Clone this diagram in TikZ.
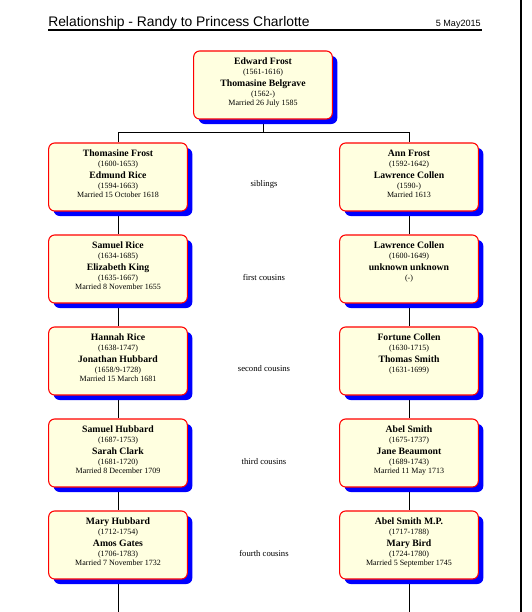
\documentclass[tikz,border=0pt]{standalone}
\usepackage{fontspec}
\setmainfont{Liberation Serif}
\newfontfamily\headfont{Liberation Sans}
\usetikzlibrary{shadows,backgrounds}

\definecolor{boxfill}{RGB}{255,255,224}

% two people of one generation, with dates and the marriage
\newcommand{\couple}[5]{%
  \parbox[t][51pt][t]{104pt}{\centering\lineskiplimit=-20pt
    \fontsize{7.3}{8}\selectfont\bfseries\rule{0pt}{9.75pt}#1\par
    \fontsize{6}{7.6}\selectfont\mdseries #2\par
    \fontsize{7.3}{9}\selectfont\bfseries #3\par
    \fontsize{6}{7.6}\selectfont\mdseries #4\par
    \fontsize{6}{7}\selectfont #5\par}}

\begin{document}
\begin{tikzpicture}[x=0.75pt,y=-0.75pt,
    person/.style={draw=red,fill=boxfill,line width=0.8pt,rounded corners=4.5pt,inner sep=0pt,
      drop shadow={shadow xshift=3.75pt,shadow yshift=-3.75pt,fill=blue,opacity=1}},
    kin/.style={font=\fontsize{6.5}{8}\selectfont},
    link/.style={line width=0.75pt}]
  \useasboundingbox (0,0) rectangle (532,612);

  % heading
  \node[anchor=base west,inner sep=0pt,font=\headfont\fontsize{10.4}{12}\selectfont] (title) at (48,26) {Relationship - Randy to Princess Charlotte};
  \node[anchor=base east,inner sep=0pt,font=\headfont\fontsize{6.8}{8}\selectfont] (date) at (481,26) {5 May2015};
  \draw[line width=0.9pt] (48,30) -- (482,30);
  \draw[line width=1.5pt] (521,0) -- (521,612);

  \node[person] (root) at (263,85) {\couple{Edward Frost}{(1561-1616)}{Thomasine Belgrave}{(1562-)}{Married 26 July 1585}};

  \node[person] (l1) at (118,177) {\couple{Thomasine Frost}{(1600-1653)}{Edmund Rice}{(1594-1663)}{Married 15 October 1618}};
  \node[person] (r1) at (409,177) {\couple{Ann Frost}{(1592-1642)}{Lawrence Collen}{(1590-)}{Married 1613}};
  \node[kin] (k1) at (264,184) {siblings};

  \node[person] (l2) at (118,269) {\couple{Samuel Rice}{(1634-1685)}{Elizabeth King}{(1635-1667)}{Married 8 November 1655}};
  \node[person] (r2) at (409,269) {\couple{Lawrence Collen}{(1600-1649)}{unknown unknown}{(-)}{}};
  \node[kin] (k2) at (264,277) {first cousins};

  \node[person] (l3) at (118,361) {\couple{Hannah Rice}{(1638-1747)}{Jonathan Hubbard}{(1658/9-1728)}{Married 15 March 1681}};
  \node[person] (r3) at (409,361) {\couple{Fortune Collen}{(1630-1715)}{Thomas Smith}{(1631-1699)}{}};
  \node[kin] (k3) at (264,369) {second cousins};

  \node[person] (l4) at (118,453) {\couple{Samuel Hubbard}{(1687-1753)}{Sarah Clark}{(1681-1720)}{Married 8 December 1709}};
  \node[person] (r4) at (409,453) {\couple{Abel Smith}{(1675-1737)}{Jane Beaumont}{(1689-1743)}{Married 11 May 1713}};
  \node[kin] (k4) at (264,462) {third cousins};

  \node[person] (l5) at (118,545) {\couple{Mary Hubbard}{(1712-1754)}{Amos Gates}{(1706-1783)}{Married 7 November 1732}};
  \node[person] (r5) at (409,545) {\couple{Abel Smith M.P.}{(1717-1788)}{Mary Bird}{(1724-1780)}{Married 5 September 1745}};
  \node[kin] (k5) at (264,553) {fourth cousins};

  \coordinate (bar) at (263,132);
  \coordinate (foot) at (0,612);
  \begin{scope}[on background layer]
    \draw[link] (root.south) -- (root.south|-bar);
    \draw[link] (l1.north) -- (l1.north|-bar) -- (r1.north|-bar) -- (r1.north);
    \draw[link] (l1.south) -- (l2.north);
    \draw[link] (l2.south) -- (l3.north);
    \draw[link] (l3.south) -- (l4.north);
    \draw[link] (l4.south) -- (l5.north);
    \draw[link] (l5.south) -- (l5.south|-foot);
    \draw[link] (r1.south) -- (r2.north);
    \draw[link] (r2.south) -- (r3.north);
    \draw[link] (r3.south) -- (r4.north);
    \draw[link] (r4.south) -- (r5.north);
    \draw[link] (r5.south) -- (r5.south|-foot);
  \end{scope}
\end{tikzpicture}
\end{document}
